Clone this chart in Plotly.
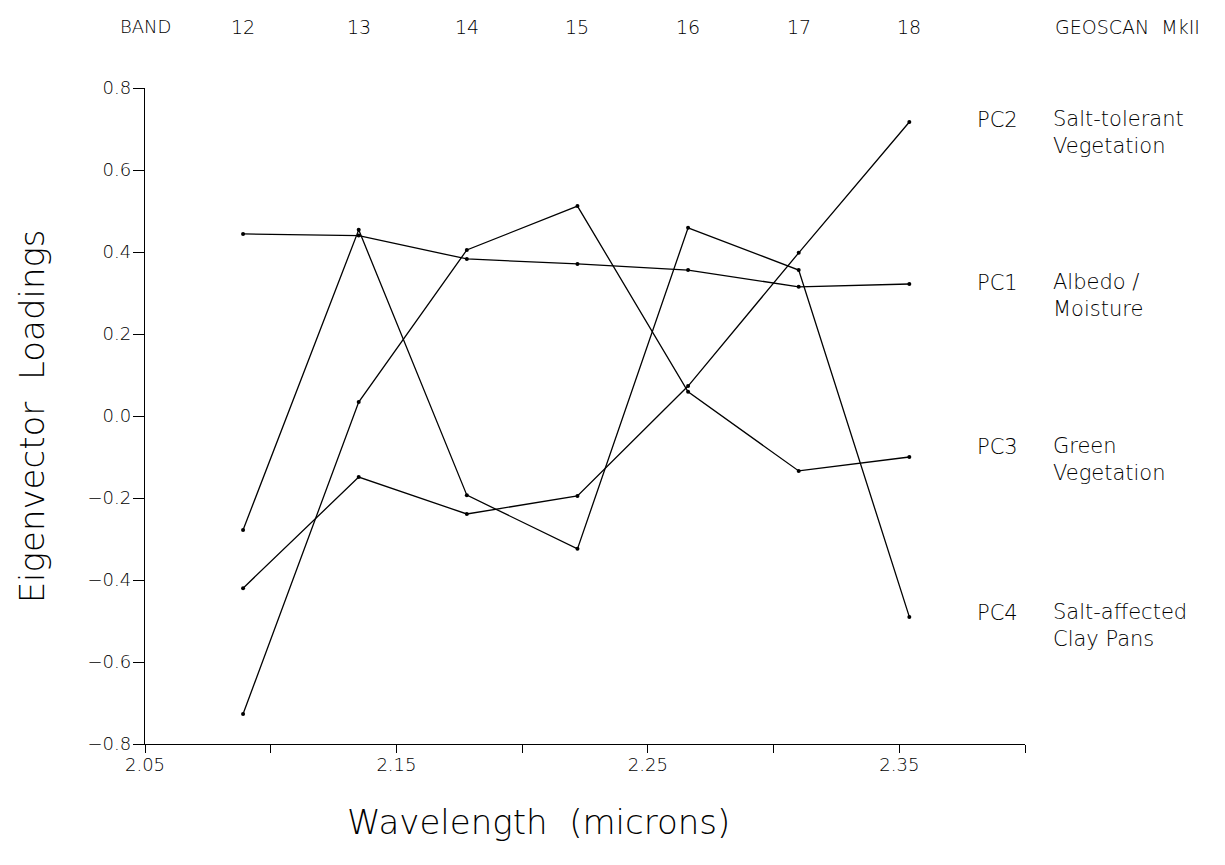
import plotly.graph_objects as go

# ---- data ----
wavelength = [2.089, 2.135, 2.178, 2.222, 2.266, 2.310, 2.354]
band_labels = ["12", "13", "14", "15", "16", "17", "18"]

pc1 = [0.444, 0.440, 0.383, 0.371, 0.356, 0.315, 0.322]
pc2 = [-0.420, -0.149, -0.239, -0.195, 0.073, 0.398, 0.717]
pc3 = [-0.727, 0.034, 0.405, 0.512, 0.059, -0.134, -0.100]
pc4 = [-0.278, 0.454, -0.193, -0.324, 0.459, 0.356, -0.490]

series_names = ["PC1", "PC2", "PC3", "PC4"]
series_desc = ["Albedo /<br>Moisture", "Salt-tolerant<br>Vegetation",
               "Green<br>Vegetation", "Salt-affected<br>Clay Pans"]

y_ticks = [-0.8, -0.6, -0.4, -0.2, 0.0, 0.2, 0.4, 0.6, 0.8]
x_ticks = [2.05, 2.10, 2.15, 2.20, 2.25, 2.30, 2.35, 2.40]
x_ticktext = ["2.05", "", "2.15", "", "2.25", "", "2.35", ""]

FONT = "DejaVu Sans"
THIN = 200

fig = go.Figure()
for name, vals in zip(series_names, [pc1, pc2, pc3, pc4]):
    fig.add_trace(go.Scatter(
        x=wavelength, y=vals, mode="lines+markers", name=name,
        line=dict(color="black", width=1.3),
        marker=dict(color="black", size=4, symbol="circle"),
        showlegend=False,
    ))

annotations = []
# top band labels
for wl, lab in zip(wavelength, band_labels):
    annotations.append(dict(x=wl, y=1.093, xref="x", yref="paper", text=lab,
                            showarrow=False, xanchor="center", yanchor="middle",
                            font=dict(family=FONT, size=19, color="black", weight=THIN)))
annotations.append(dict(x=0.0, y=1.093, xref="paper", yref="paper", text="BAND",
                        showarrow=False, xanchor="center", yanchor="middle",
                        font=dict(family=FONT, size=18, color="black", weight=THIN)))
annotations.append(dict(x=1.117, y=1.093, xref="paper", yref="paper", text="GEOSCAN  MkII",
                        showarrow=False, xanchor="center", yanchor="middle",
                        font=dict(family=FONT, size=19, color="black", weight=THIN)))

# right-side component labels
label_pos = {"PC2": (0.722, 0.691), "PC1": (0.324, 0.294),
             "PC3": (-0.076, -0.106), "PC4": (-0.480, -0.511)}
for name, desc in zip(series_names, series_desc):
    ly, dy = label_pos[name]
    annotations.append(dict(x=0.943, y=ly, xref="paper", yref="y", text=name,
                            showarrow=False, xanchor="left", yanchor="middle",
                            font=dict(family=FONT, size=21, color="black", weight=THIN)))
    annotations.append(dict(x=1.030, y=dy, xref="paper", yref="y", text=desc,
                            showarrow=False, xanchor="left", yanchor="middle", align="left",
                            font=dict(family=FONT, size=21, color="black", weight=THIN)))

# axis titles
annotations.append(dict(x=0.447, y=-0.119, xref="paper", yref="paper",
                        text="Wavelength  (microns)", showarrow=False,
                        xanchor="center", yanchor="middle",
                        font=dict(family=FONT, size=34, color="black", weight=THIN)))
annotations.append(dict(x=-0.128, y=0.5, xref="paper", yref="paper",
                        text="Eigenvector  Loadings", showarrow=False, textangle=-90,
                        xanchor="center", yanchor="middle",
                        font=dict(family=FONT, size=34, color="black", weight=THIN)))

fig.update_layout(
    width=1225, height=865,
    margin=dict(l=145, r=200, t=88, b=121),
    paper_bgcolor="white", plot_bgcolor="white",
    annotations=annotations,
    xaxis=dict(range=[2.05, 2.40], tickvals=x_ticks, ticktext=x_ticktext,
               showline=True, linecolor="black", linewidth=1.3,
               ticks="outside", ticklen=8, tickwidth=1.3, tickcolor="black",
               showgrid=False, zeroline=False, ticklabelstandoff=-4,
               tickfont=dict(family=FONT, size=18, color="black", weight=THIN)),
    yaxis=dict(range=[-0.8, 0.8], tickvals=y_ticks, tickformat=".1f",
               showline=True, linecolor="black", linewidth=1.3,
               ticks="outside", ticklen=11, tickwidth=1.3, tickcolor="black",
               showgrid=False, zeroline=False, ticklabelstandoff=-2,
               tickfont=dict(family=FONT, size=18, color="black", weight=THIN)),
)

fig.write_html("out.html")
